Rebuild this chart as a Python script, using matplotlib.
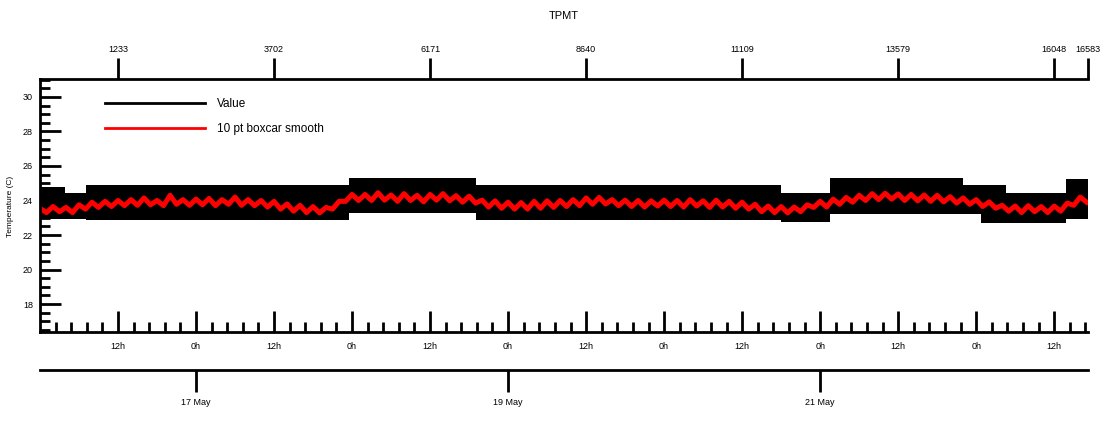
import matplotlib
matplotlib.use("Agg")
import matplotlib.pyplot as plt
from matplotlib.lines import Line2D
import numpy as np
import pandas as pd

plt.rcParams['font.family'] = ['Liberation Sans', 'DejaVu Sans']

# start of record and visible end (hours after start)
start = pd.Timestamp("2013-05-16 00:00")
end_hours = 161.2

# black "Value" envelope, read per segment (segment start in hours)
band_start_h = [0, 3.8, 7, 47.5, 67, 114, 121.5, 142, 144.8, 148.6, 157.8]
band_top = [24.8, 24.42, 24.9, 25.29, 24.9, 24.42, 25.29, 24.9, 24.9, 24.42, 25.25]
band_bottom = [22.95, 22.95, 22.85, 23.26, 22.85, 22.77, 23.2, 23.2, 22.7, 22.7, 22.9]

# red 10 pt boxcar smooth, hourly readings from 0 h to 161 h
smooth_values = [
    23.55, 23.3, 23.65, 23.35, 23.6, 23.3, 23.75, 23.5, 23.9, 23.6, 23.95, 23.65,
    24.0, 23.7, 24.05, 23.72, 24.15, 23.75, 24.0, 23.7, 24.3, 23.78, 24.05, 23.72,
    24.08, 23.75, 24.12, 23.7, 24.05, 23.78, 24.2, 23.72, 24.05, 23.7, 24.0, 23.62,
    23.95, 23.5, 23.8, 23.38, 23.72, 23.3, 23.65, 23.28, 23.6, 23.5, 23.95, 23.95,
    24.35, 24.0, 24.35, 24.0, 24.45, 24.02, 24.32, 23.95, 24.4, 24.0, 24.3, 23.92,
    24.35, 24.02, 24.4, 23.98, 24.28, 23.9, 24.25, 23.85, 24.02, 23.62, 23.98, 23.55,
    23.9, 23.5, 23.88, 23.5, 23.95, 23.55, 23.98, 23.6, 24.0, 23.65, 24.05, 23.7,
    24.15, 23.78, 24.18, 23.8, 24.05, 23.7, 24.02, 23.65, 24.0, 23.62, 23.98, 23.68,
    24.02, 23.65, 24.0, 23.62, 24.05, 23.68, 23.98, 23.6, 24.02, 23.62, 23.95, 23.55,
    23.9, 23.5, 23.78, 23.35, 23.68, 23.3, 23.65, 23.28, 23.62, 23.35, 23.75, 23.6,
    23.95, 23.62, 24.08, 23.78, 24.18, 23.9, 24.3, 24.0, 24.4, 24.05, 24.42, 24.08,
    24.38, 24.0, 24.35, 23.98, 24.32, 23.95, 24.3, 23.92, 24.22, 23.85, 24.15, 23.78,
    24.05, 23.65, 23.92, 23.55, 23.72, 23.38, 23.68, 23.3, 23.7, 23.35, 23.65, 23.3,
    23.68, 23.38, 23.85, 23.72, 24.2, 23.9,
]

# top axis: point numbers at the 12h marks and at the end
top_tick_hours = [12, 36, 60, 84, 108, 132, 156, end_hours]
top_tick_labels = ["1233", "3702", "6171", "8640", "11109", "13579", "16048", "16583"]

date_tick_hours = [24, 72, 120]
date_tick_labels = ["17 May", "19 May", "21 May"]


def main():
    hrs = lambda h: start + pd.to_timedelta(np.asarray(h, dtype=float), unit="h")

    band_t = hrs(band_start_h + [end_hours])
    top = band_top + [band_top[-1]]
    bot = band_bottom + [band_bottom[-1]]
    smooth_t = hrs(np.arange(len(smooth_values)))

    W, H = 1112, 423
    fig = plt.figure(figsize=(W / 100, H / 100), dpi=100)
    L, R, T, B = 40, 1088, 79, 332
    ax = fig.add_axes([L / W, 1 - B / H, (R - L) / W, (B - T) / H])

    ax.fill_between(band_t, bot, top, step="post", color="black", lw=0)
    ax.plot(smooth_t, smooth_values, color="red", lw=3.6)

    x0, x1 = hrs([0, end_hours])
    ax.set_xlim(x0, x1)
    ax.set_ylim(16.38, 31.04)

    # y axis
    ax.set_yticks(np.arange(18, 31, 2))
    ax.set_yticks(np.arange(16.5, 31.01, 0.5), minor=True)
    ax.tick_params(axis="y", which="both", direction="in", width=2, labelsize=6.5, pad=5)
    ax.tick_params(axis="y", which="major", length=15)
    ax.tick_params(axis="y", which="minor", length=7.5)
    ax.set_ylabel("Temperature (C)", fontsize=6)
    ax.yaxis.set_label_coords(-0.0248, 0.498)

    # bottom time axis
    major_t = hrs(np.arange(12, end_hours, 12))
    minor_t = hrs(np.arange(2.4, end_hours, 2.4))
    ax.set_xticks(major_t)
    ax.set_xticklabels([f"{t.hour}h" for t in major_t])
    ax.set_xticks(minor_t, minor=True)
    ax.tick_params(axis="x", which="both", direction="in", width=2, labelsize=6.5, pad=7)
    ax.tick_params(axis="x", which="major", length=15)
    ax.tick_params(axis="x", which="minor", length=7.5)

    for s in ["left", "bottom", "top"]:
        ax.spines[s].set_linewidth(2)
    ax.spines["right"].set_visible(False)

    # top axis with point numbers
    axt = ax.twiny()
    axt.set_xlim(x0, x1)
    axt.set_xticks(hrs(top_tick_hours))
    axt.set_xticklabels(top_tick_labels)
    axt.tick_params(axis="x", direction="out", length=15, width=2, labelsize=6.5, pad=3)
    for s in axt.spines.values():
        s.set_visible(False)

    # date axis below
    axd = fig.add_axes([L / W, 1 - 370 / H, (R - L) / W, 0.0001])
    axd.set_xlim(x0, x1)
    axd.set_xticks(hrs(date_tick_hours))
    axd.set_xticklabels(date_tick_labels)
    axd.set_yticks([])
    axd.tick_params(axis="x", direction="out", length=16, width=2, labelsize=6.5, pad=4)
    for s in ["left", "right", "top"]:
        axd.spines[s].set_visible(False)
    axd.spines["bottom"].set_linewidth(2)
    axd.patch.set_visible(False)

    ax.set_title("TPMT", fontsize=8, y=1.237, pad=0)

    handles = [Line2D([], [], color="black", lw=2), Line2D([], [], color="red", lw=2)]
    ax.legend(handles, ["Value", "10 pt boxcar smooth"], loc="upper left",
              bbox_to_anchor=(105 / W, 1 - 98 / H), bbox_transform=fig.transFigure,
              frameon=False, fontsize=8.5, handlelength=8.5, handletextpad=1.0,
              labelspacing=1.1, borderpad=0, borderaxespad=0)

    fig.savefig("out.png", dpi=100)


if __name__ == '__main__':
    main()
